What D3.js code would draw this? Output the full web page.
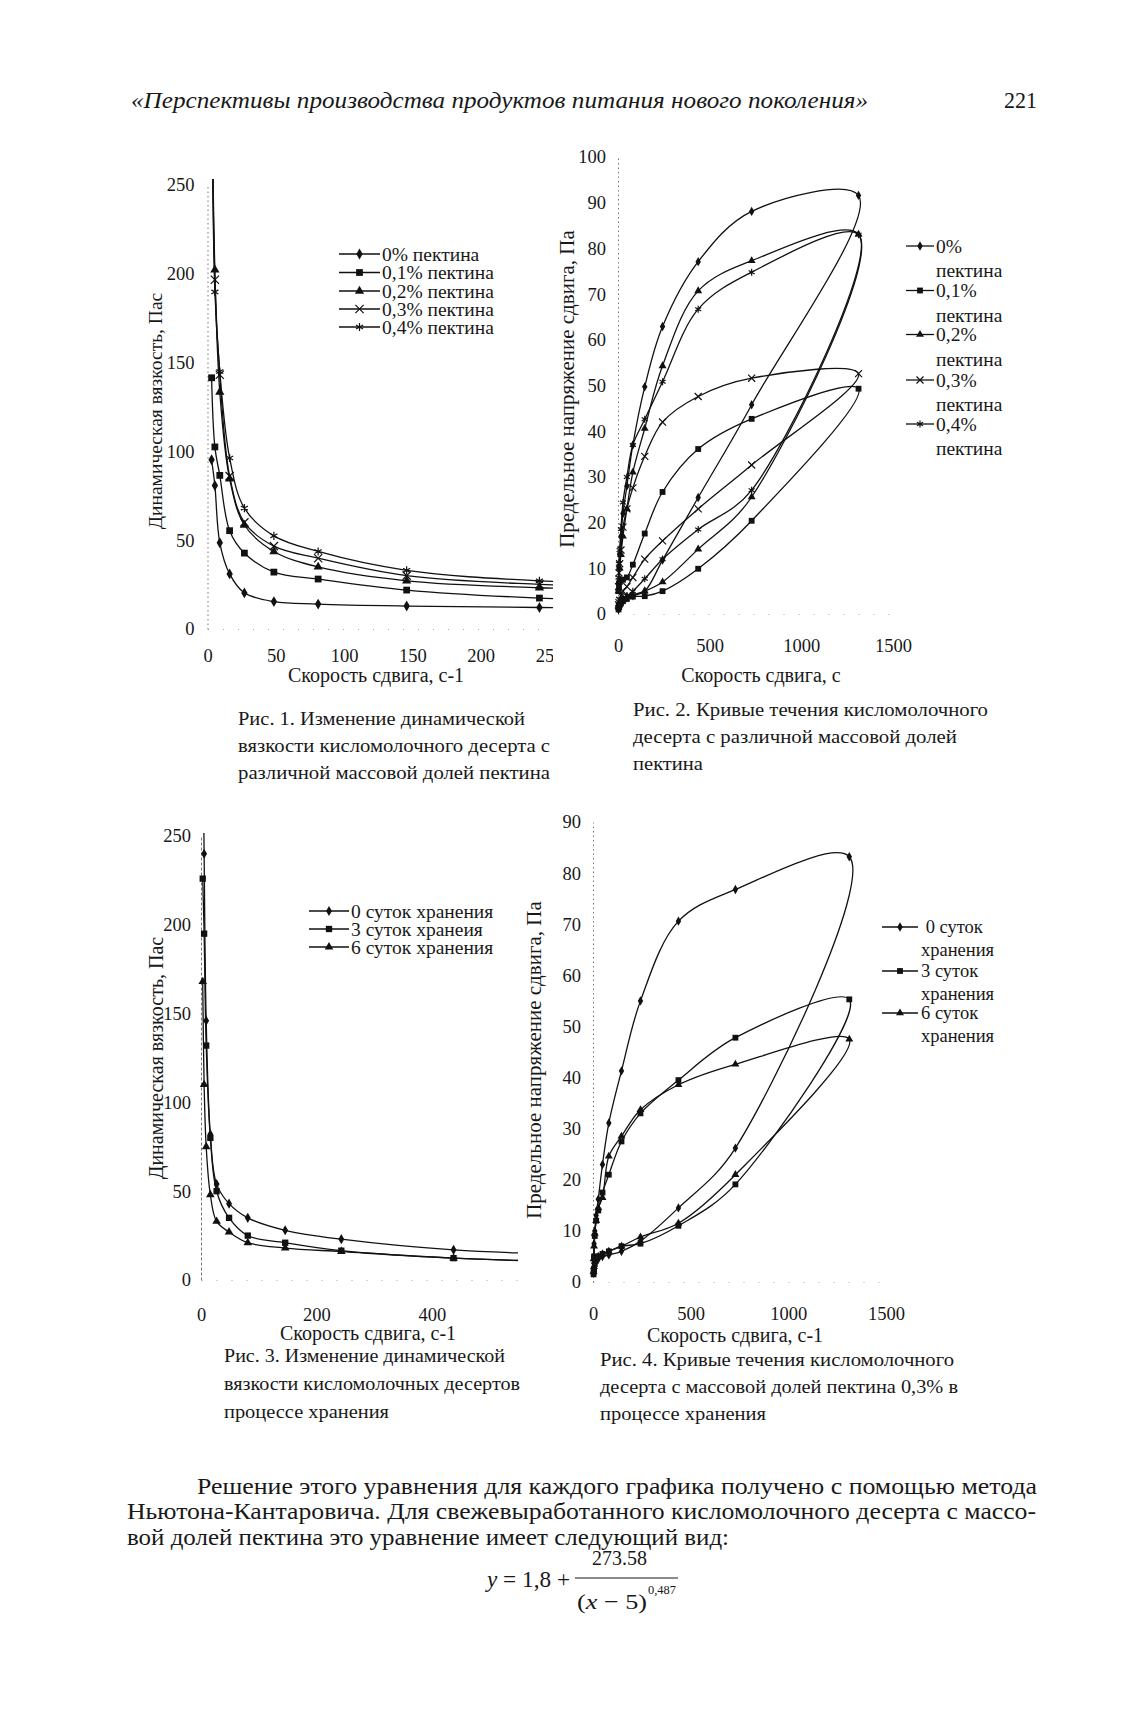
<!DOCTYPE html>
<html lang="ru">
<head>
<meta charset="utf-8">
<title>Кривые течения кисломолочного десерта</title>
<style>
  body { margin: 0; background: #fff; }
  svg text { font-family: "Liberation Serif", "Times New Roman", serif; fill: #181818; }
</style>
</head>
<body>
<script src="https://cdn.jsdelivr.net/npm/d3@7"></script>
<script>

var W = 1133, H = 1719;
var SERIF = '"Liberation Serif", "Times New Roman", serif';

// shear rates of the viscometer, 1/s
var rates = [3, 5.4, 9, 16.2, 27, 48.6, 81, 145.8, 243, 437.4, 729, 1312];

// Рис. 1 - dynamic viscosity, Pa*s (first 10 rates)
var f1_p00 = [95.2, 80.7, 48.5, 31, 20.3, 15.4, 14, 12.9, 12.1, 11];
var f1_p01 = [141.3, 102.4, 86.4, 55.3, 42.7, 32, 28.1, 21.9, 17.4, 14];
var f1_p02 = [320, 202, 133.2, 84.5, 58.5, 43.6, 34.9, 27.1, 23.2, 20];
var f1_p03 = [330, 196.4, 143, 86, 60, 46.6, 39.8, 30, 25.1, 21.5];
var f1_p04 = [345, 189.6, 144.8, 96.2, 68, 52.4, 43.6, 33, 27.1, 24];
var f1_names = ["0% пектина", "0,1% пектина", "0,2% пектина", "0,3% пектина", "0,4% пектина"];

// Рис. 2 - shear stress, Pa; up = rising rate, dn = falling rate (without the top point)
var f2_p00_up = [7, 10, 13, 17, 22, 28, 37, 49.7, 62.9, 77.1, 88.1, 91.6];
var f2_p00_dn = [1, 1.5, 2, 2.5, 3, 3.5, 4, 5, 11.8, 25.5, 45.8];
var f2_p01_up = [5, 6, 7, 7.5, 7.5, 8, 10.8, 17.6, 26.7, 36.1, 42.7, 49.3];
var f2_p01_dn = [1, 1.5, 2, 2.3, 2.8, 3.3, 3.8, 3.9, 5, 9.9, 20.4];
var f2_p02_up = [5, 7, 10, 13, 17, 23, 31, 40.6, 54.3, 70.7, 77.3, 83.1];
var f2_p02_dn = [1.5, 2, 2.5, 3, 3.3, 3.8, 4.2, 5, 7, 14.2, 25.6];
var f2_p03_up = [6, 9, 11, 14, 19, 23, 27.6, 34.5, 42, 47.6, 51.6, 52.6];
var f2_p03_dn = [2, 2.5, 3, 4, 5, 6, 8, 12, 16, 23, 32.6];
var f2_p04_up = [8, 11, 14, 18.6, 24.4, 30, 37, 42.6, 50.8, 66.7, 74.8, 83];
var f2_p04_dn = [1.5, 2, 2.5, 3, 3.5, 4, 5, 7.7, 12, 18.5, 27.1];

// Рис. 3 - dynamic viscosity during storage (first 11 rates)
var f3_d0 = [320, 240, 146, 82, 54, 43, 35, 28, 23, 17, 13.5];
var f3_d3 = [226, 195, 132, 80, 50, 35, 25, 21, 16.5, 12.3, 9.5];
var f3_d6 = [168, 110, 75, 48, 33, 27, 21, 18, 16, 12.3, 9.5];
var f3_names = ["0 суток хранения", "3 суток хранеия", "6 суток хранения"];

// Рис. 4 - flow curves during storage
var f4_d0_up = [5, 7.5, 10, 13, 16.2, 23, 31.1, 41.3, 55, 70.6, 76.8, 83.2];
var f4_d0_dn = [2, 3, 3.5, 4, 4.5, 5, 5.3, 6, 8, 14.5, 26.2];
var f4_d3_up = [2, 5, 9, 12, 14, 17.5, 21, 27.5, 33, 39.5, 47.8, 55.3];
var f4_d3_dn = [1.5, 2.5, 3.5, 4.5, 5, 5.5, 6, 7, 7.5, 11, 19.1];
var f4_d6_up = [4.5, 7, 9.5, 12, 14.5, 16.5, 24.6, 28.5, 33.7, 38.6, 42.6, 47.5];
var f4_d6_dn = [2, 3, 4, 4.5, 5, 5.5, 6, 7, 8.8, 11.5, 21];
var f4_names = [" 0 суток хранения", "3 суток хранения", "6 суток хранения"];

var kinds = ["diamond", "square", "triangle", "times", "asterisk"];

var svg = d3.select("body").append("svg")
    .attr("width", W).attr("height", H).style("display", "block")
    .style("font-family", SERIF);
svg.append("rect").attr("width", W).attr("height", H).attr("fill", "#fff");

function marker(g, kind, cx, cy, size) {
    var types = {diamond: d3.symbolDiamond, square: d3.symbolSquare, triangle: d3.symbolTriangle,
                 times: d3.symbolTimes, asterisk: d3.symbolAsterisk};
    var filled = kind == "diamond" || kind == "square" || kind == "triangle";
    var sz = kind == "triangle" ? size * 0.8 : (kind == "diamond" ? size * 0.75 : size);
    g.append("path")
        .attr("d", d3.symbol().type(types[kind]).size(sz)())
        .attr("transform", "translate(" + cx + "," + cy + ")")
        .attr("fill", filled ? "#111" : "none")
        .attr("stroke", "#111")
        .attr("stroke-width", filled ? 0 : 1.2);
}

var clipId = 0;

function chart(o) {
    var g = svg.append("g");
    var x = d3.scaleLinear().domain(o.xDom).range(o.xRng);
    var y = d3.scaleLinear().domain(o.yDom).range(o.yRng);

    if (o.cut) {
        clipId++;
        svg.append("clipPath").attr("id", "cut" + clipId).append("rect")
            .attr("x", 0).attr("y", 0).attr("width", o.cut).attr("height", H);
        g.attr("clip-path", "url(#cut" + clipId + ")");
    }

    var ya = g.append("g").attr("transform", "translate(" + x(0) + ",0)")
        .call(d3.axisLeft(y).tickValues(o.yTicks).tickFormat(d3.format("d"))
            .tickSize(0).tickSizeOuter(0).tickPadding(o.yPad));
    var xa = g.append("g").attr("transform", "translate(0," + y(0) + ")")
        .call(d3.axisBottom(x).tickValues(o.xTicks).tickFormat(d3.format("d"))
            .tickSize(0).tickSizeOuter(0).tickPadding(o.xPad));
    [ya, xa].forEach(function(a) {
        a.attr("font-family", null).attr("font-size", o.tickFont);
        a.selectAll("text").attr("fill", "#181818").style("font-family", SERIF);
    });
    ya.select(".domain").attr("stroke", "#777").attr("stroke-dasharray", o.yDash || "1.5,3");
    xa.select(".domain").attr("stroke", "#aaa").attr("stroke-dasharray", "1,14");

    var plot = g.append("g");
    if (o.box) {
        clipId++;
        svg.append("clipPath").attr("id", "cut" + clipId).append("rect")
            .attr("x", o.box[0]).attr("y", o.box[1]).attr("width", o.box[2]).attr("height", o.box[3]);
        plot.attr("clip-path", "url(#cut" + clipId + ")");
    }

    var line = d3.line()
        .x(function(d) { return x(d[0]); })
        .y(function(d) { return y(d[1]); })
        .curve(d3.curveCatmullRom.alpha(0.5));

    o.series.forEach(function(s, k) {
        var pts = s.up.map(function(v, i) { return [rates[i], v]; });
        if (s.dn) {
            var back = s.dn.map(function(v, i) { return [rates[i], v]; }).reverse();
            pts = pts.concat(back);
        }
        plot.append("path").attr("d", line(pts))
            .attr("fill", "none").attr("stroke", "#111").attr("stroke-width", 1.3);
        pts.forEach(function(p) {
            marker(plot, kinds[k], x(p[0]), y(p[1]), o.mSize);
        });
    });

    // legend
    o.series.forEach(function(s, k) {
        var ly = o.leg.rows[k];
        g.append("line").attr("x1", o.leg.x1).attr("x2", o.leg.x2)
            .attr("y1", ly).attr("y2", ly).attr("stroke", "#111").attr("stroke-width", 1.3);
        marker(g, kinds[k], (o.leg.x1 + o.leg.x2) / 2, ly, o.mSize);
        var parts = o.leg.wrap ? s.name.replace(/^(\s*\S+\s\S+|\s*\S+)\s/, "$1|").split("|") : [s.name];
        var gap = o.leg.gap || 0;
        parts.forEach(function(t, j) {
            g.append("text").attr("x", o.leg.tx).attr("y", ly + j * gap)
                .attr("dy", "0.35em").attr("font-size", o.leg.font)
                .style("font-family", SERIF)
                .attr("xml:space", "preserve").text(t);
        });
    });

    g.append("text").attr("x", o.xTitle[0]).attr("y", o.xTitle[1]).attr("dy", "0.35em")
        .attr("text-anchor", "middle").attr("font-size", o.xFont)
        .style("font-family", SERIF).text(o.xTitle[2]);
    g.append("text")
        .attr("transform", "translate(" + o.yTitle[0] + "," + o.yTitle[1] + ") rotate(-90)")
        .attr("dy", "0.35em").attr("text-anchor", "middle")
        .attr("font-size", o.yFont).style("font-family", SERIF).text(o.yTitle[2]);
}

// Рис. 1
chart({
    xDom: [0, 250], xRng: [207.5, 549], yDom: [0, 250], yRng: [629, 184.5],
    xTicks: [0, 50, 100, 150, 200, 250], yTicks: d3.range(0, 251, 50),
    xPad: 20, yPad: 13, tickFont: 18.5, xFont: 20, yFont: 19.5, mSize: 46,
    cut: 553, box: [190, 179, 400, 460],
    series: [f1_p00, f1_p01, f1_p02, f1_p03, f1_p04].map(function(a, i) { return {up: a, name: f1_names[i]}; }),
    leg: {x1: 339, x2: 380, tx: 382, rows: [254, 272.5, 291, 309, 327], font: 19.5},
    xTitle: [376, 675, "Скорость сдвига, с-1"],
    yTitle: [155, 411, "Динамическая вязкость, Пас"]
});

// Рис. 2
chart({
    xDom: [0, 1500], xRng: [618, 893], yDom: [0, 100], yRng: [614, 157],
    xTicks: [0, 500, 1000, 1500], yTicks: d3.range(0, 101, 10),
    xPad: 25, yPad: 12, tickFont: 18.5, xFont: 20, yFont: 21, mSize: 34,
    series: [
        {up: f2_p00_up, dn: f2_p00_dn, name: "0% пектина"},
        {up: f2_p01_up, dn: f2_p01_dn, name: "0,1% пектина"},
        {up: f2_p02_up, dn: f2_p02_dn, name: "0,2% пектина"},
        {up: f2_p03_up, dn: f2_p03_dn, name: "0,3% пектина"},
        {up: f2_p04_up, dn: f2_p04_dn, name: "0,4% пектина"}
    ],
    leg: {x1: 906, x2: 934, tx: 936, rows: [246, 290.5, 334.5, 380, 424], font: 19.5,
          wrap: true, gap: 24.5},
    xTitle: [761, 675, "Скорость сдвига, с"],
    yTitle: [567, 389, "Предельное напряжение сдвига, Па"]
});

// Рис. 3
chart({
    xDom: [0, 549], xRng: [201, 518], yDom: [0, 250], yRng: [1280, 836],
    xTicks: [0, 200, 400], yTicks: d3.range(0, 251, 50),
    xPad: 28, yPad: 10, tickFont: 18.5, xFont: 20, yFont: 20, mSize: 40, yDash: "3,2",
    box: [195, 833, 323, 460],
    series: [f3_d0, f3_d3, f3_d6].map(function(a, i) { return {up: a, name: f3_names[i]}; }),
    leg: {x1: 309, x2: 349, tx: 351, rows: [911, 929, 947], font: 19.5},
    xTitle: [368, 1333, "Скорость сдвига, с-1"],
    yTitle: [156, 1058, "Динамическая вязкость, Пас"]
});

// Рис. 4
chart({
    xDom: [0, 1500], xRng: [593, 886], yDom: [0, 90], yRng: [1282, 822],
    xTicks: [0, 500, 1000, 1500], yTicks: d3.range(0, 91, 10),
    xPad: 25, yPad: 12, tickFont: 18.5, xFont: 20, yFont: 21, mSize: 34,
    series: [
        {up: f4_d0_up, dn: f4_d0_dn, name: f4_names[0]},
        {up: f4_d3_up, dn: f4_d3_dn, name: f4_names[1]},
        {up: f4_d6_up, dn: f4_d6_dn, name: f4_names[2]}
    ],
    leg: {x1: 882, x2: 918, tx: 921, rows: [927, 971, 1013], font: 18.5,
          wrap: true, gap: 23},
    xTitle: [735, 1335, "Скорость сдвига, с-1"],
    yTitle: [534, 1060, "Предельное напряжение сдвига, Па"]
});

// page text
function txt(x, y, s, size, width, extra) {
    var t = svg.append("text").attr("x", x).attr("y", y).attr("dy", "0.35em")
        .attr("font-size", size).style("font-family", SERIF).text(s);
    if (width) t.attr("textLength", width).attr("lengthAdjust", "spacingAndGlyphs");
    if (extra) extra(t);
    return t;
}

txt(131, 100, "«Перспективы производства продуктов питания нового поколения»", 24, 737,
    function(t) { t.attr("font-style", "italic"); });
txt(1004, 100, "221", 24, 33);

txt(238, 719, "Рис. 1. Изменение динамической", 18, 287);
txt(238, 746, "вязкости кисломолочного десерта с", 18, 312);
txt(238, 773, "различной массовой долей пектина", 18, 312);

txt(633, 710, "Рис. 2. Кривые течения кисломолочного", 18, 355);
txt(633, 737, "десерта с различной массовой долей", 18, 324);
txt(633, 764, "пектина", 18, 70);

txt(224, 1356, "Рис. 3. Изменение динамической", 18, 281);
txt(224, 1384, "вязкости кисломолочных десертов", 18, 296);
txt(224, 1412, "процессе хранения", 18, 165);

txt(600, 1360, "Рис. 4. Кривые течения кисломолочного", 18, 354);
txt(600, 1387, "десерта с массовой долей пектина 0,3% в", 18, 358);
txt(600, 1414, "процессе хранения", 18, 166);

txt(197, 1486, "Решение этого уравнения для каждого графика получено с помощью метода", 24, 840);
txt(127, 1511, "Ньютона-Кантаровича. Для свежевыработанного кисломолочного десерта с массо-", 24, 909);
txt(127, 1537, "вой долей пектина это уравнение имеет следующий вид:", 24, 602);

// formula
txt(487, 1579, "", 23, 83, function(t) {
    t.append("tspan").attr("font-style", "italic").text("y");
    t.append("tspan").text(" = 1,8 +"); });
txt(592, 1557, "273.58", 22, 55);
svg.append("line").attr("x1", 575).attr("x2", 678).attr("y1", 1578).attr("y2", 1578)
    .attr("stroke", "#181818").attr("stroke-width", 1);
txt(577, 1601, "", 22, 70, function(t) {
    t.append("tspan").text("(");
    t.append("tspan").attr("font-style", "italic").text("x");
    t.append("tspan").text(" − 5)"); });
txt(648, 1590, "0,487", 12, 28);

</script>
</body>
</html>
